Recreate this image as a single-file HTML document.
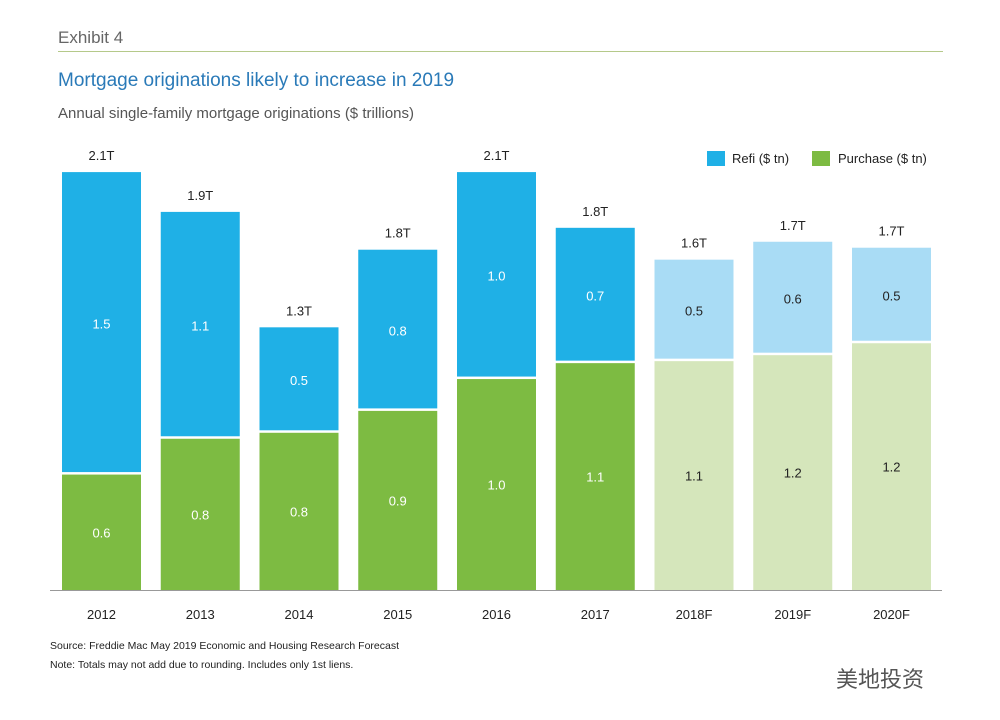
<!DOCTYPE html>
<html><head><meta charset="utf-8"><style>
body{margin:0;background:#fff;font-family:"Liberation Sans",Arial,sans-serif;}
#wrap{position:relative;width:1000px;height:720px;overflow:hidden;}
.t{position:absolute;white-space:nowrap;}
</style></head><body>
<div id="wrap">
<div class="t" style="left:58px;top:28px;font-size:17px;color:#666;">Exhibit 4</div>
<div style="position:absolute;left:58px;top:51px;width:885px;height:1px;background:#b5c98a;"></div>
<div class="t" style="left:58px;top:70px;font-size:19px;color:#2a7ab8;">Mortgage originations likely to increase in 2019</div>
<div class="t" style="left:58px;top:105px;font-size:15px;color:#555;">Annual single-family mortgage originations ($ trillions)</div>
<div class="t" style="left:50px;top:640px;font-size:10.5px;color:#222;">Source: Freddie Mac May 2019 Economic and Housing Research Forecast</div>
<div class="t" style="left:50px;top:659px;font-size:10.5px;color:#222;">Note: Totals may not add due to rounding. Includes only 1st liens.</div>
<div class="t" style="left:836px;top:662px;font-size:22px;color:#555;font-family:'Liberation Sans','Noto Sans CJK SC',sans-serif;">美地投资</div>
<svg id="chart" width="1000" height="720" style="position:absolute;left:0;top:0;"></svg>
</div>
<script>
const categories=["2012","2013","2014","2015","2016","2017","2018F","2019F","2020F"];
const purchase=[0.58,0.76,0.79,0.90,1.06,1.14,1.15,1.18,1.24];
const refi=[1.52,1.14,0.53,0.81,1.04,0.68,0.51,0.57,0.48];
const purchaseLabels=["0.6","0.8","0.8","0.9","1.0","1.1","1.1","1.2","1.2"];
const refiLabels=["1.5","1.1","0.5","0.8","1.0","0.7","0.5","0.6","0.5"];
const totalLabels=["2.1T","1.9T","1.3T","1.8T","2.1T","1.8T","1.6T","1.7T","1.7T"];
const forecast=[false,false,false,false,false,false,true,true,true];
const svg=document.getElementById('chart');const NS="http://www.w3.org/2000/svg";
const base=590,scale=199,x0=62,step=98.75,bw=79;
const y=v=>base-v*scale;const x=i=>x0+i*step;
function mk(tag,at,parent){const e=document.createElementNS(NS,tag);for(const k in at)e.setAttribute(k,at[k]);(parent||svg).appendChild(e);return e;}
function txt(s,xx,yy,col,size){const e=mk('text',{x:xx,y:yy,'text-anchor':'middle','font-size':size||13,fill:col,'font-family':'Liberation Sans, Arial, sans-serif'});e.textContent=s;return e;}
const axis=mk('line',{x1:50,x2:942,y1:base+0.5,y2:base+0.5,stroke:'#999','stroke-width':1});


categories.forEach((c,i)=>{
 const f=forecast[i];const cx=x(i)+bw/2;
 const pTop=y(purchase[i]);const rTop=y(purchase[i]+refi[i]);
 const pb=mk('rect',{x:x(i),y:pTop,width:bw,height:base-pTop,fill:f?'#d5e6bb':'#7dbb42'});
 
 
 const rb=mk('rect',{x:x(i),y:rTop,width:bw,height:pTop-rTop-2.5,fill:f?'#a9dcf5':'#1fb0e6'});
 
 
 const lc=f?'#222':'#fff';
 const pl=txt(purchaseLabels[i],cx,(pTop+base)/2+5,lc);
 
 
 const rl=txt(refiLabels[i],cx,(rTop+pTop)/2+5,lc);
 
 
 const tl=txt(totalLabels[i],cx,rTop-12,'#222');
 
 
 const xl=txt(c,cx,619,'#222');
 
 
});
const l1=mk('rect',{x:707,y:151,width:18,height:15,fill:'#1fb0e6'});


const t1=mk('text',{x:732,y:163,'font-size':13,fill:'#222','font-family':'Liberation Sans, Arial, sans-serif'});t1.textContent='Refi ($ tn)';


const l2=mk('rect',{x:812,y:151,width:18,height:15,fill:'#7dbb42'});


const t2=mk('text',{x:838,y:163,'font-size':13,fill:'#222','font-family':'Liberation Sans, Arial, sans-serif'});t2.textContent='Purchase ($ tn)';


</script>
</body></html>
